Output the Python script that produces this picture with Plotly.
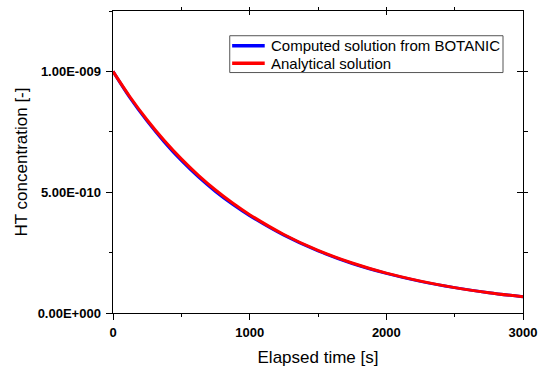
import plotly.graph_objects as go

# Elapsed time [s]
time_s = [0, 125, 250, 375, 500, 625, 750, 875, 1000, 1250, 1500, 1750, 2000, 2250, 2500, 2750, 3000]
# HT concentration [-]
computed = [1.000e-9, 0.890e-9, 0.794e-9, 0.708e-9, 0.631e-9, 0.563e-9, 0.503e-9, 0.450e-9, 0.403e-9,
            0.322e-9, 0.257e-9, 0.205e-9, 0.164e-9, 0.131e-9, 0.105e-9, 0.084e-9, 0.067e-9]
analytical = [1.000e-9, 0.894e-9, 0.799e-9, 0.714e-9, 0.638e-9, 0.570e-9, 0.509e-9, 0.455e-9, 0.407e-9,
              0.325e-9, 0.259e-9, 0.207e-9, 0.165e-9, 0.132e-9, 0.105e-9, 0.084e-9, 0.067e-9]
series_names = ["Computed solution from BOTANIC", "Analytical solution"]
series_colors = ["#0000ff", "#ff0000"]

x_ticks = [0, 1000, 2000, 3000]
x_ticktext = ["0", "1000", "2000", "3000"]
y_ticks = [0, 5e-10, 1e-9]
y_ticktext = ["0.00E+000", "5.00E-010", "1.00E-009"]

FONT = "Liberation Sans, Arial, sans-serif"
W, H = 541, 367
L, R, T, B = 112.5, 18.3, 11, 54.3
PW, PH = W - L - R, H - T - B


def px(x):
    return (x - L) / PW


def py(y):
    return (H - B - y) / PH


fig = go.Figure()
fig.add_trace(go.Scatter(x=time_s, y=computed, mode="lines", name=series_names[0],
                         line=dict(color=series_colors[0], width=3, shape="spline"),
                         xaxis="x", yaxis="y", showlegend=False))
fig.add_trace(go.Scatter(x=time_s, y=analytical, mode="lines", name=series_names[1],
                         line=dict(color=series_colors[1], width=3, shape="spline"),
                         xaxis="x2", yaxis="y2", showlegend=False))

common_x = dict(range=[0, 3000], showgrid=False, zeroline=False, showline=True, linecolor="black",
                linewidth=1, tickvals=x_ticks, ticktext=x_ticktext, automargin=False,
                minor=dict(dtick=500, tick0=0, ticklen=3, tickcolor="black", showgrid=False))
common_y = dict(range=[0, 1.25e-9], showgrid=False, zeroline=False, showline=True, linecolor="black",
                linewidth=1, tickvals=y_ticks, ticktext=y_ticktext, automargin=False,
                minor=dict(dtick=2.5e-10, tick0=0, ticklen=3.5, tickcolor="black", showgrid=False))

# manual legend (box, line samples, labels)
shapes = [dict(type="rect", xref="paper", yref="paper", x0=px(229.3), x1=px(502.7), y0=py(72.5), y1=py(35.7),
               line=dict(color="#555555", width=1), fillcolor="white", layer="above")]
annotations = []
row_y = [45.7, 63.3]
for name, color, yy in zip(series_names, series_colors, row_y):
    shapes.append(dict(type="line", xref="paper", yref="paper", x0=px(231.7), x1=px(264.3), y0=py(yy), y1=py(yy),
                       line=dict(color=color, width=3.5), layer="above"))
    annotations.append(dict(xref="paper", yref="paper", x=px(268.5), y=py(yy), text=name, showarrow=False,
                            xanchor="left", yanchor="middle", font=dict(size=15, family=FONT, color="black")))

fig.update_layout(
    width=W, height=H,
    margin=dict(l=L, r=R, t=T, b=B),
    paper_bgcolor="white", plot_bgcolor="white",
    font=dict(family=FONT, color="black"),
    xaxis=dict(**common_x, ticks="outside", ticklen=6, tickcolor="black", ticklabelstandoff=1,
               tickfont=dict(size=13, weight="bold", family=FONT),
               title=dict(text="Elapsed time [s]", font=dict(size=17, family=FONT), standoff=15)),
    yaxis=dict(**common_y, ticks="outside", ticklen=6.5, tickcolor="black", ticklabelstandoff=2,
               tickfont=dict(size=13, weight="bold", family=FONT),
               title=dict(text="HT concentration [-]", font=dict(size=17, family=FONT), standoff=5)),
    xaxis2=dict(**common_x, overlaying="x", side="top", anchor="y2", ticks="inside", ticklen=4,
                tickcolor="black", showticklabels=False),
    yaxis2=dict(**common_y, overlaying="y", side="right", anchor="x2", ticks="inside", ticklen=6,
                tickcolor="black", showticklabels=False),
    showlegend=False,
    shapes=shapes,
    annotations=annotations,
)

fig.write_html("out.html")
